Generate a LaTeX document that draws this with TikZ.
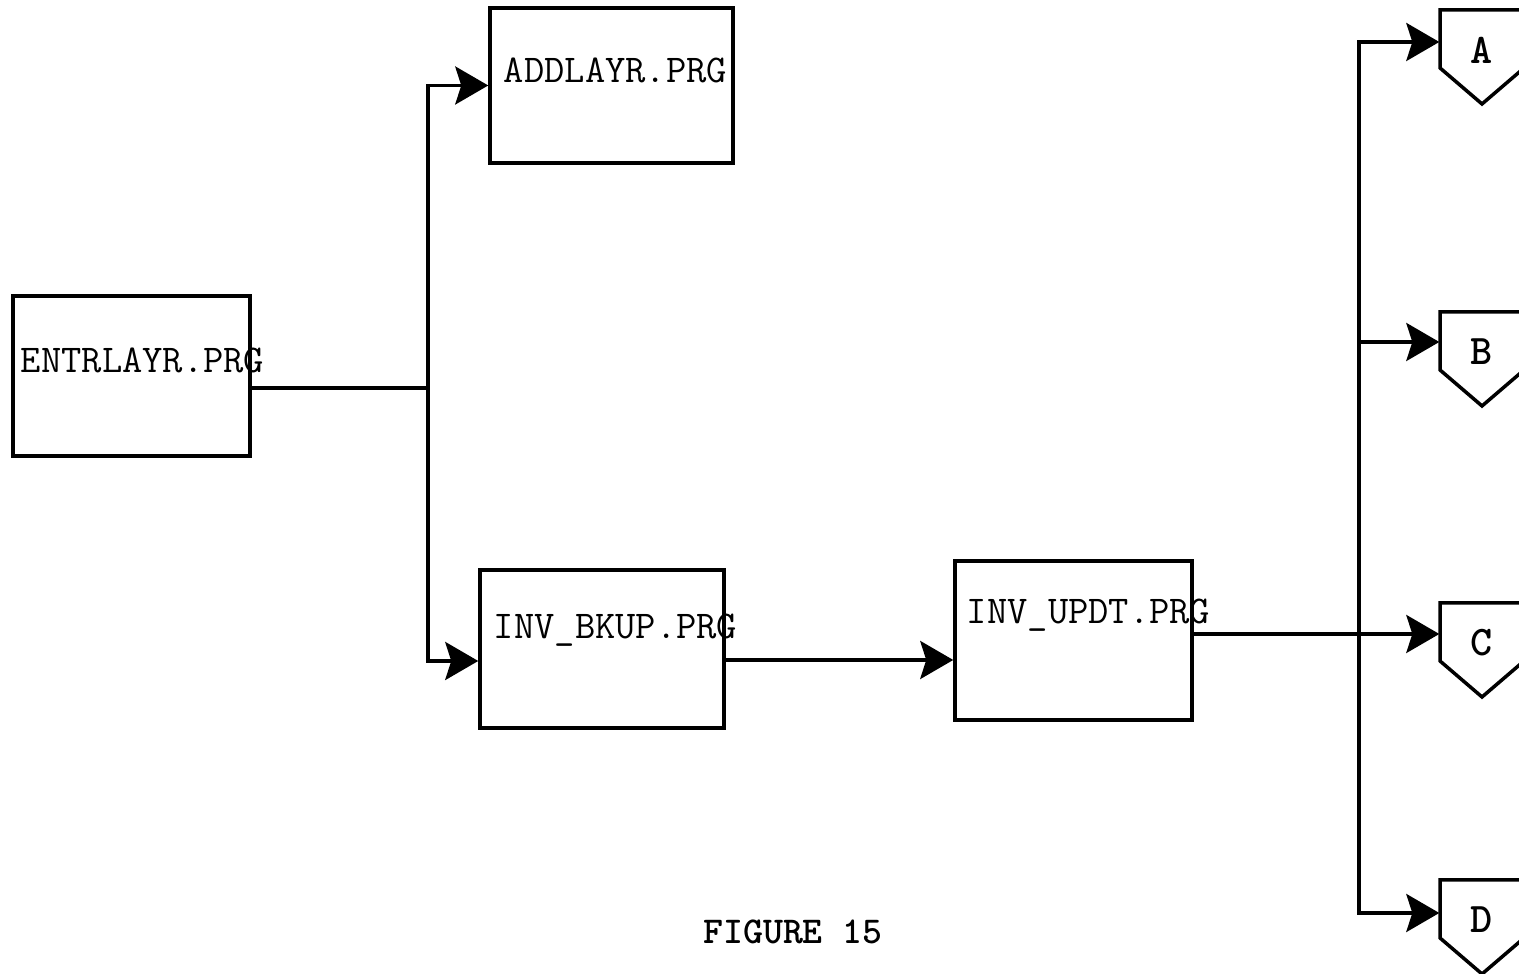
\documentclass[tikz,border=0pt]{standalone}
\usepackage{tikz}
\usetikzlibrary{arrows.meta,positioning,calc}

\begin{document}
\begin{tikzpicture}[
    prgbox/.style={draw, line width=1pt, inner sep=0pt},
    prgtext/.style={font=\ttfamily\fontsize{11.2}{13}\selectfont, inner sep=0pt, anchor=west},
    pgnode/.style={minimum width=0.84cm, inner sep=0pt,
        font=\ttfamily\bfseries\fontsize{12}{14}\selectfont},
    line/.style={line width=1pt},
    arrow/.style={line width=1pt, -{Stealth[length=3.3mm, width=3.8mm, inset=0.6mm]}}
]
    \useasboundingbox (0,0) rectangle (15.19,9.74);

    % Program boxes
    \node[prgbox, minimum width=2.37cm, minimum height=1.60cm] (entr) at (1.315,5.98) {};
    \node[prgbox, minimum width=2.43cm, minimum height=1.55cm] (addl) at (6.115,8.885) {};
    \node[prgbox, minimum width=2.44cm, minimum height=1.58cm] (bkup) at (6.02,3.25) {};
    \node[prgbox, minimum width=2.37cm, minimum height=1.59cm] (updt) at (10.735,3.335) {};

    \node[prgtext] (entrtxt) at ([xshift=0.09cm, yshift=0.16cm]entr.west) {ENTRLAYR.PRG};
    \node[prgtext] (addltxt) at ([xshift=0.15cm, yshift=0.155cm]addl.west) {ADDLAYR.PRG};
    \node[prgtext] (bkuptxt) at ([xshift=0.15cm, yshift=0.19cm]bkup.west) {INV\_BKUP.PRG};
    \node[prgtext] (updttxt) at ([xshift=0.13cm, yshift=0.255cm]updt.west) {INV\_UPDT.PRG};

    % Off-page connectors
    \foreach \n/\yc in {A/9.24, B/6.22, C/3.31, D/0.54} {
        \node[pgnode] (\n) at (14.82,\yc) {\n};
        \draw[line] ([shift={(-0.42,-0.18)}]\n.center) -- ++(0,0.58) -- ++(0.84,0)
            -- ++(0,-0.58) -- ([yshift=-0.54cm]\n.center) -- cycle;
    }

    % Left branch
    \coordinate (jl) at (4.28,5.86);
    \draw[line] ([yshift=-0.12cm]entr.east) -- (jl);
    \draw[arrow] (jl) |- (addl.west);
    \draw[arrow] (jl) |- ([yshift=-0.12cm]bkup.west);
    \draw[arrow] ([yshift=-0.11cm]bkup.east) coordinate (b1) -- (b1 -| updt.west);

    % Right branch
    \coordinate (jr) at (13.59,3.40);
    \draw[arrow] (updt.east |- jr) -- (jr -| C.west);
    \draw[arrow] (jr) |- ([yshift=0.08cm]A.west);
    \draw[arrow] (jr) |- ([yshift=0.10cm]B.west);
    \draw[arrow] (jr) |- ([yshift=0.07cm]D.west);

    \node[font=\ttfamily\bfseries\fontsize{10.8}{12}\selectfont] (fig) at (7.93,0.42) {FIGURE 15};
\end{tikzpicture}
\end{document}
